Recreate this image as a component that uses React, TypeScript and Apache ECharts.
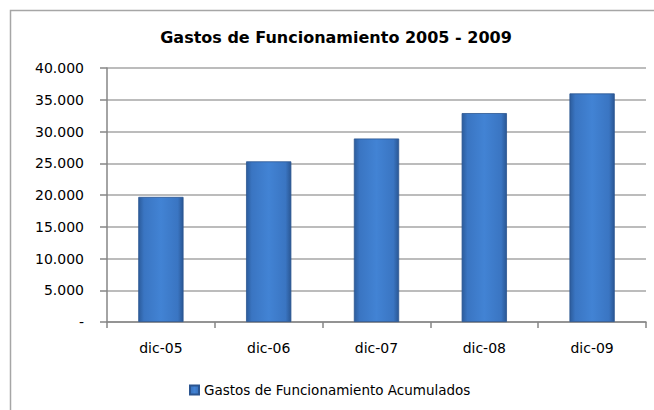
import React, { useEffect, useRef } from "react";
import * as echarts from "echarts";

const categories = ["dic-05", "dic-06", "dic-07", "dic-08", "dic-09"];
const values = [19700, 25300, 28900, 32900, 36000];
const seriesName = "Gastos de Funcionamiento Acumulados";
const titleText = "Gastos de Funcionamiento 2005 - 2009";

const fmt = (v: number) => {
  if (v === 0) return "-";
  return v.toLocaleString("de-DE");
};

export default function App() {
  const ref = useRef<HTMLDivElement>(null);
  useEffect(() => {
    document.body.style.margin = "0";
    const chart = echarts.init(ref.current!, null, { renderer: "svg" });
    const font = "DejaVu Sans";
    const barColor = new echarts.graphic.LinearGradient(0, 0, 1, 0, [
      { offset: 0, color: "#2c5c9c" },
      { offset: 0.12, color: "#3a75c2" },
      { offset: 0.5, color: "#4283d4" },
      { offset: 0.88, color: "#3a75c2" },
      { offset: 1, color: "#2a5794" },
    ]);
    chart.setOption({
      animation: false,
      backgroundColor: "#ffffff",
      title: {
        text: titleText,
        left: 331,
        textAlign: "center",
        top: 24,
        textStyle: { fontFamily: font, fontWeight: "bold", fontSize: 16, color: "#000" },
      },
      graphic: [
        {
          type: "rect",
          shape: { x: 10.5, y: 10.5, width: 700, height: 500 },
          style: { fill: "none", stroke: "#a6a6a6", lineWidth: 1.5 },
          silent: true,
        },
      ],
      legend: {
        data: [{ name: seriesName, icon: "rect" }],
        left: 184,
        top: 378,
        itemWidth: 9,
        itemHeight: 9,
        itemGap: 5,
        textStyle: { fontFamily: font, fontSize: 13.5, color: "#000" },
      },
      grid: { left: 107, right: 8, top: 68, bottom: 88, containLabel: false },
      xAxis: {
        type: "category",
        data: categories,
        axisLine: { lineStyle: { color: "#868686", width: 1.5 } },
        axisTick: { show: true, length: 6, lineStyle: { color: "#868686", width: 1.5 } },
        axisLabel: { fontFamily: font, fontSize: 14, color: "#000", margin: 19 },
      },
      yAxis: {
        type: "value",
        min: 0,
        max: 40000,
        interval: 5000,
        axisLine: { show: true, lineStyle: { color: "#868686", width: 1.5 } },
        axisTick: { show: true, length: 7, lineStyle: { color: "#868686", width: 1.5 } },
        axisLabel: { fontFamily: font, fontSize: 14, color: "#000", margin: 23, formatter: fmt },
        splitLine: { lineStyle: { color: "#a6a6a6", width: 1.5 } },
      },
      series: [
        {
          name: seriesName,
          type: "bar",
          data: values,
          barWidth: "42%",
          itemStyle: { color: barColor, borderColor: "#2b5590", borderWidth: 0.8 },
        },
      ],
    });
    return () => chart.dispose();
  }, []);
  return <div ref={ref} style={{ width: 654, height: 410 }} />;
}
